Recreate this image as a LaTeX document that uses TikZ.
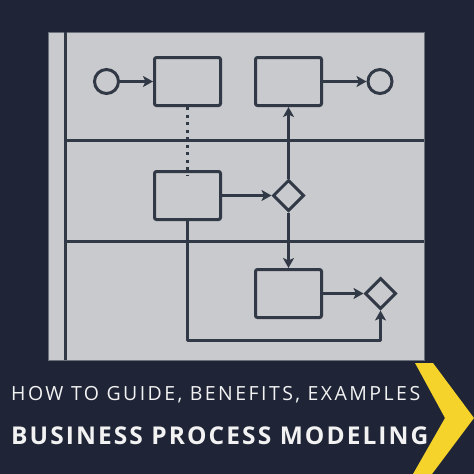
\documentclass[tikz,border=0pt]{standalone}
\usepackage{fontspec}
\setmainfont{Open Sans}
\newfontfamily\lightfont[LetterSpace=12.5]{Open Sans}
\newfontfamily\boldfont[LetterSpace=8.5]{Open Sans Bold}
\usetikzlibrary{shapes.geometric,arrows.meta}
\definecolor{bgnavy}{HTML}{1F2537}
\definecolor{panelgray}{HTML}{C9CACD}
\definecolor{ink}{HTML}{313846}
\definecolor{edgegray}{HTML}{6A707C}
\definecolor{chevyellow}{HTML}{F6D32B}
\definecolor{txtwhite}{HTML}{F2F2F2}
\tikzset{
  ln/.style={draw=ink, line width=3pt},
  taskbox/.style={ln, rectangle, rounded corners=2pt, minimum width=66pt, minimum height=48pt, inner sep=0pt},
  evt/.style={ln, circle, minimum size=24pt, inner sep=0pt},
  gate/.style={ln, diamond, minimum size=31pt, inner sep=0pt},
  flow/.style={ln, line join=round, -{Stealth[length=10pt,width=11pt,inset=2.5pt]}},
  assoc/.style={draw=ink, line width=3pt, dash pattern=on 3pt off 4.5pt},
  lane/.style={draw=ink, line width=3pt}
}
\begin{document}
\begin{tikzpicture}[x=1pt,y=-1pt]
\useasboundingbox (0,0) rectangle (474,474);
\fill[bgnavy] (0,0) rectangle (474,474);
% panel
\path[fill=panelgray, draw=edgegray, line width=1pt] (48,32) rectangle (424,360);
\draw[lane] (65,32) -- (65,360);
\draw[lane] (65,140) -- (424,140);
\draw[lane] (65,241) -- (424,241);
% nodes
\node[evt] (c1) at (106.5,81.5) {};
\node[taskbox] (b1) at (187.5,81.5) {};
\node[taskbox] (b2) at (288.5,81.5) {};
\node[evt] (c2) at (380,81.5) {};
\node[taskbox] (b3) at (187.5,195.5) {};
\node[gate] (d1) at (288.5,195.5) {};
\node[taskbox] (b4) at (288.5,293.5) {};
\node[gate] (d2) at (380.5,293.5) {};
\coordinate (k) at (380.5,340);
% connectors
\draw[flow] (c1) -- (b1);
\draw[flow] (b2) -- (c2);
\draw[assoc] (b1.south) -- ([yshift=-5pt]b3.north);
\draw[flow] (b3) -- (d1);
\draw[flow] (d1.north) -- (b2.south);
\draw[flow] (d1.south) -- (b4.north);
\draw[flow] (b4) -- (d2);
\draw[flow] (b3.south) |- (k) -- (d2.south);
% chevron
\fill[chevyellow] (415,363) -- (433,363) -- (474,418) -- (432,474) -- (413,474) -- (445,418) -- cycle;
% texts
\node[anchor=base west, inner sep=0pt, text=txtwhite, font=\lightfont\fontsize{19.5}{22}\selectfont] (t1) at (11,400) {HOW TO GUIDE, BENEFITS, EXAMPLES};
\node[anchor=base west, inner sep=0pt, text=txtwhite, font=\boldfont\fontsize{24.5}{27}\selectfont] (t2) at (11,444) {BUSINESS PROCESS MODELING};
\end{tikzpicture}
\end{document}
